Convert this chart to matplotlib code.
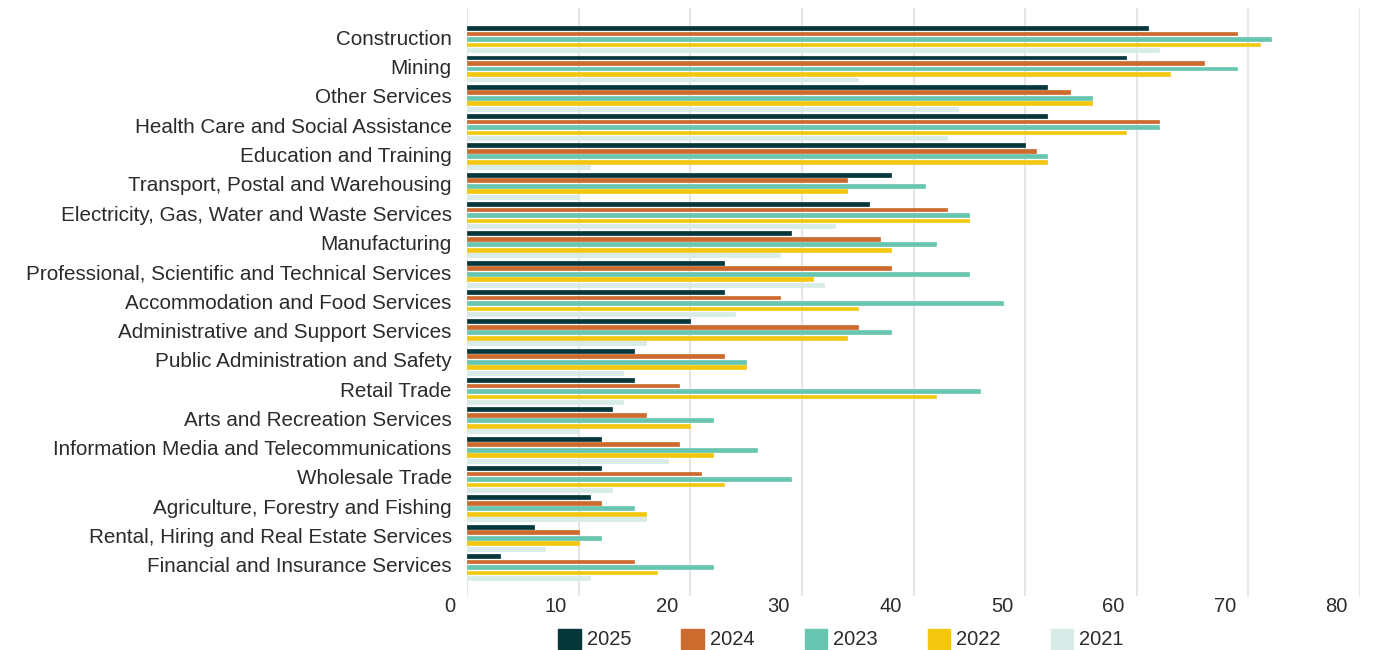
import matplotlib
matplotlib.use('Agg')
import matplotlib.pyplot as plt
import matplotlib.transforms as mtransforms
from matplotlib.patches import Patch
import numpy as np

categories = [
    "Construction", "Mining", "Other Services", "Health Care and Social Assistance",
    "Education and Training", "Transport, Postal and Warehousing",
    "Electricity, Gas, Water and Waste Services", "Manufacturing",
    "Professional, Scientific and Technical Services", "Accommodation and Food Services",
    "Administrative and Support Services", "Public Administration and Safety",
    "Retail Trade", "Arts and Recreation Services",
    "Information Media and Telecommunications", "Wholesale Trade",
    "Agriculture, Forestry and Fishing", "Rental, Hiring and Real Estate Services",
    "Financial and Insurance Services",
]
years = ["2025", "2024", "2023", "2022", "2021"]
v2025 = [61, 59, 52, 52, 50, 38, 36, 29, 23, 23, 20, 15, 15, 13, 12, 12, 11, 6, 3]
v2024 = [69, 66, 54, 62, 51, 34, 43, 37, 38, 28, 35, 23, 19, 16, 19, 21, 12, 10, 15]
v2023 = [72, 69, 56, 62, 52, 41, 45, 42, 45, 48, 38, 25, 46, 22, 26, 29, 15, 12, 22]
v2022 = [71, 63, 56, 59, 52, 34, 45, 38, 31, 35, 34, 25, 42, 20, 22, 23, 16, 10, 17]
v2021 = [62, 35, 44, 43, 11, 10, 33, 28, 32, 24, 16, 14, 14, 10, 18, 13, 16, 7, 11]
series = [v2025, v2024, v2023, v2022, v2021]
colors = ['#04363A', '#CD6A2D', '#68C6B0', '#F4C70F', '#D8EBE6']
xticks = [0, 10, 20, 30, 40, 50, 60, 70, 80]

plt.rcParams['font.family'] = ['Liberation Sans', 'DejaVu Sans']
text_color = '#2b2b2b'

fig = plt.figure(figsize=(13.84, 6.5), dpi=100)
ax = fig.add_axes([467/1384, 1 - 596/650, (1360-467)/1384, (596-8)/650])

y = np.arange(len(categories))
slot = 0.1875
bh = 0.13
for k, (vals, c, yr) in enumerate(zip(series, colors, years)):
    ax.barh(y + (k - 2) * slot, vals, height=bh, color=c, edgecolor=c,
            linewidth=0.5, joinstyle='round', label=yr, zorder=3)

ax.set_xlim(0, 80)
ax.set_ylim(len(categories) - 1 + 0.99, -1.06)
ax.set_xticks(xticks)
ax.set_xticklabels([str(t) for t in xticks])
ax.set_yticks(y)
ax.set_yticklabels(categories)
ax.tick_params(axis='y', length=0, pad=11, labelsize=14.9, labelcolor=text_color)
ax.tick_params(axis='x', length=0, pad=1, labelsize=14.5, labelcolor=text_color)
for lab in ax.get_yticklabels():
    lab.set_transform(lab.get_transform() +
                      mtransforms.ScaledTranslation(0, 2/100, fig.dpi_scale_trans))
for lab in ax.get_xticklabels():
    lab.set_horizontalalignment('right')
    lab.set_transform(lab.get_transform() +
                      mtransforms.ScaledTranslation(-12/100, 0, fig.dpi_scale_trans))
for s in ax.spines.values():
    s.set_visible(False)
ax.grid(axis='x', color='#e6e6e6', linewidth=1.5, zorder=0)
ax.grid(axis='y', visible=False)
ax.set_axisbelow(True)

handles = [Patch(facecolor=c, edgecolor=c, label=yr) for c, yr in zip(colors, years)]
fig.legend(handles=handles, loc='center', bbox_to_anchor=(841/1384, 1 - 639/650),
           ncol=5, frameon=False, fontsize=14.5, handlelength=1.1, handleheight=1.15,
           handletextpad=0.3, columnspacing=2.5, labelcolor=text_color,
           borderaxespad=0, borderpad=0)

fig.savefig('out.png', dpi=100)
